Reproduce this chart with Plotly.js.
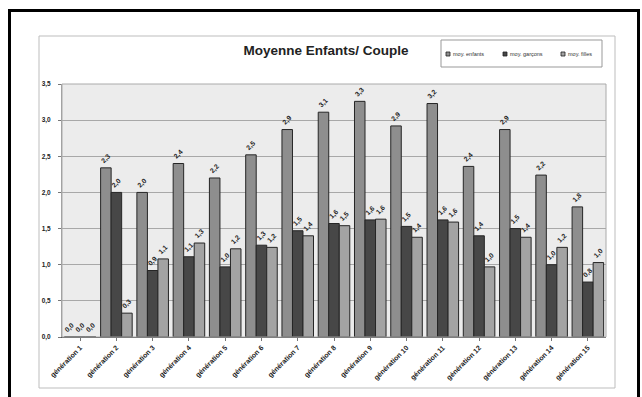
<!DOCTYPE html>
<html>
<head>
<meta charset="utf-8">
<script src="https://cdn.plot.ly/plotly-3.0.1.min.js"></script>
<style>
html,body{margin:0;padding:0;background:#fff;}
#chart{width:642px;height:397px;}
</style>
</head>
<body>
<div id="chart"></div>
<script>
const categories = ["génération 1","génération 2","génération 3","génération 4","génération 5","génération 6","génération 7","génération 8","génération 9","génération 10","génération 11","génération 12","génération 13","génération 14","génération 15"];
const moyEnfants = [0, 2.34, 2.0, 2.4, 2.2, 2.52, 2.87, 3.11, 3.26, 2.92, 3.23, 2.36, 2.87, 2.24, 1.8];
const moyGarcons = [0, 2.0, 0.92, 1.11, 0.97, 1.27, 1.47, 1.57, 1.62, 1.53, 1.62, 1.4, 1.5, 1.0, 0.76];
const moyFilles  = [0, 0.33, 1.08, 1.3, 1.22, 1.24, 1.4, 1.54, 1.63, 1.38, 1.59, 0.97, 1.38, 1.24, 1.03];
const seriesNames = ["moy. enfants","moy. garçons","moy. filles"];
const yTicks = [0,0.5,1,1.5,2,2.5,3,3.5];

const W = 642, H = 397;
const L = 62, R = 36, T = 84, B = 60;
const pw = W - L - R, ph = H - T - B;
function px(x){ return (x - L) / pw; }
function py(y){ return (H - B - y) / ph; }

const colors = ["#8e8e8e","#474747","#a3a3a3"];
const series = [moyEnfants, moyGarcons, moyFilles];
const fmt = v => v.toFixed(1).replace('.', ',');
const FONT = 'Liberation Sans, Arial, sans-serif';

const traces = series.map((vals, i) => ({
  type: 'bar',
  name: seriesNames[i],
  x: categories,
  y: vals,
  text: vals.map(fmt),
  textposition: 'outside',
  textangle: -45,
  cliponaxis: false,
  textfont: {family: FONT, size: 6.8, color: '#222', weight: 'bold'},
  marker: {color: colors[i], line: {color: '#262626', width: 1}},
  hoverinfo: 'none',
  showlegend: false
}));

// manual legend (compact, like the original)
const legX = [448, 505, 563];
const legY = 54;
const shapes = [
  {type: 'rect', xref: 'paper', yref: 'paper', x0: px(39), x1: px(615), y0: py(388), y1: py(36),
   line: {color: '#bdbdbd', width: 1}, layer: 'below'},
  {type: 'rect', xref: 'paper', yref: 'paper', x0: 0, x1: 1, y0: 0, y1: 1,
   line: {color: '#aaa', width: 1}, layer: 'above'},
  {type: 'rect', xref: 'paper', yref: 'paper', x0: px(441), x1: px(602), y0: py(67), y1: py(40),
   line: {color: '#999', width: 1}, fillcolor: '#fff', layer: 'above'},
  {type: 'rect', xref: 'paper', yref: 'paper', x0: px(9.5), x1: px(638.5), y0: py(405), y1: py(10.5),
   line: {color: '#000', width: 3}, layer: 'above'}
];
const annotations = [];
seriesNames.forEach((n, i) => {
  shapes.push({type: 'rect', xref: 'paper', yref: 'paper',
    x0: px(legX[i] - 2), x1: px(legX[i] + 2), y0: py(legY + 2), y1: py(legY - 2),
    fillcolor: colors[i], line: {color: '#222', width: 0.8}, layer: 'above'});
  annotations.push({xref: 'paper', yref: 'paper', x: px(legX[i] + 3), y: py(legY),
    xanchor: 'left', yanchor: 'middle', showarrow: false, text: n,
    font: {family: FONT, size: 5.5, color: '#333'}});
});

const layout = {
  width: W, height: H,
  margin: {l: L, r: R, t: T, b: B, pad: 0},
  paper_bgcolor: '#ffffff',
  plot_bgcolor: '#ececec',
  font: {family: FONT, color: '#222'},
  barmode: 'group',
  bargap: 0.13,
  bargroupgap: 0,
  separators: ', ',
  showlegend: false,
  title: {
    text: '<b>Moyenne Enfants/ Couple</b>',
    font: {size: 13.5, color: '#222', family: FONT},
    x: px(326), xref: 'paper', xanchor: 'center',
    y: 1 - 50/H, yref: 'container', yanchor: 'middle'
  },
  xaxis: {
    type: 'category',
    tickangle: -45,
    tickfont: {size: 7, color: '#222', weight: 'bold'},
    showgrid: false,
    showline: true, linecolor: '#555', linewidth: 1,
    ticks: 'outside', ticklen: 3, tickcolor: '#777',
    fixedrange: true, automargin: false
  },
  yaxis: {
    range: [0, 3.5],
    tickvals: yTicks,
    tickformat: '.1f',
    tickfont: {size: 6.5, color: '#222', weight: 'bold'},
    ticklabelstandoff: 6,
    showgrid: true, gridcolor: '#a8a8a8', gridwidth: 1,
    zeroline: false,
    showline: true, linecolor: '#999', linewidth: 1,
    ticks: 'outside', ticklen: 3, tickcolor: '#777',
    fixedrange: true, automargin: false
  },
  shapes: shapes,
  annotations: annotations
};

Plotly.newPlot('chart', traces, layout, {staticPlot: true, displayModeBar: false});
</script>
</body>
</html>
